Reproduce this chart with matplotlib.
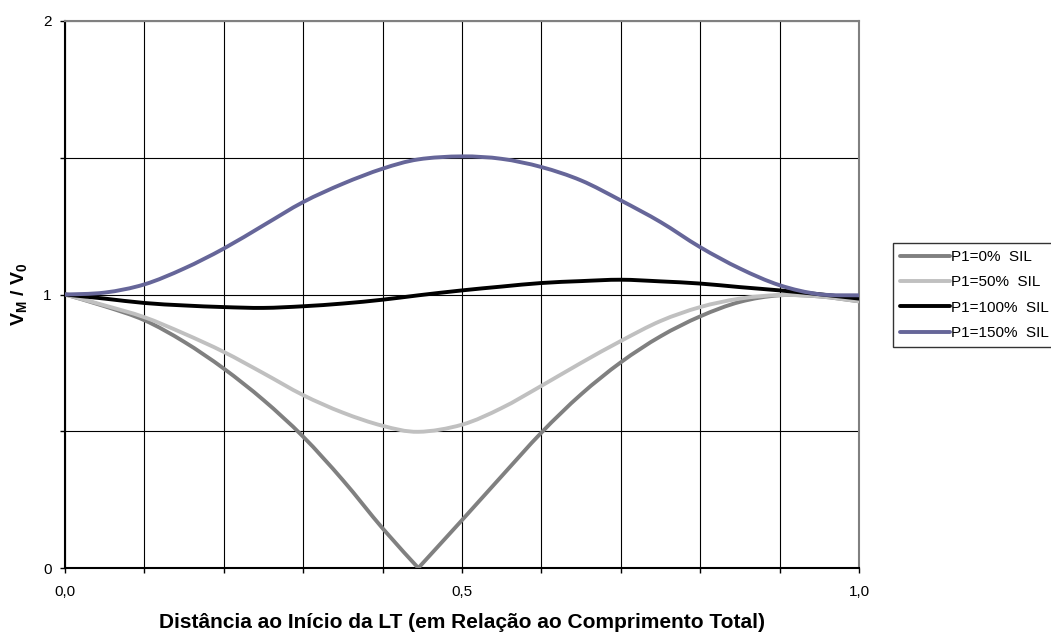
import matplotlib
matplotlib.use('Agg')
import matplotlib.pyplot as plt
from matplotlib.path import Path
from matplotlib.patches import PathPatch
from matplotlib.lines import Line2D
from matplotlib.ticker import MultipleLocator, FixedLocator, FuncFormatter

plt.rcParams['font.family'] = ['Liberation Sans', 'DejaVu Sans']
plt.rcParams['mathtext.fontset'] = 'custom'
plt.rcParams['mathtext.rm'] = 'Liberation Sans'
plt.rcParams['mathtext.bf'] = 'Liberation Sans:bold'

# distance along the line (fraction of total length)
x = [0, 0.05, 0.1, 0.15, 0.2, 0.25, 0.3, 0.35, 0.4, 0.445, 0.5,
     0.55, 0.6, 0.65, 0.7, 0.75, 0.8, 0.85, 0.9, 0.95, 1.0]

# VM / V0 for each loading
p0 = [1.0, 0.957, 0.906, 0.827, 0.729, 0.614, 0.48, 0.321, 0.145, 0.0, 0.175,
      0.336, 0.495, 0.635, 0.752, 0.847, 0.92, 0.973, 0.997, 0.993, 0.975]
p50 = [1.0, 0.96, 0.917, 0.857, 0.79, 0.712, 0.632, 0.568, 0.52, 0.498, 0.524,
       0.585, 0.666, 0.75, 0.83, 0.903, 0.954, 0.985, 0.998, 0.993, 0.975]
p100 = [1.0, 0.985, 0.969, 0.96, 0.954, 0.951, 0.957, 0.967, 0.981, 0.997, 1.015,
        1.029, 1.042, 1.049, 1.054, 1.048, 1.04, 1.027, 1.015, 1.001, 0.985]
p150 = [1.0, 1.007, 1.037, 1.095, 1.168, 1.253, 1.338, 1.405, 1.46, 1.494, 1.505,
        1.496, 1.466, 1.417, 1.344, 1.265, 1.173, 1.095, 1.034, 1.001, 0.997]

labels = ['P1=0%  SIL', 'P1=50%  SIL', 'P1=100%  SIL', 'P1=150%  SIL']
colors = ['#808080', '#C0C0C0', '#000000', '#666699']
# index where the 0% curve has its sharp corner (smoothing is split there)
corner = x.index(0.445)


def smooth_path(xs, ys):
    """Excel-like smoothed line through the points (cubic bezier segments)."""
    n = len(xs)
    verts = [(xs[0], ys[0])]
    codes = [Path.MOVETO]
    for i in range(n - 1):
        i0 = max(i - 1, 0)
        i3 = min(i + 2, n - 1)
        c1 = (xs[i] + (xs[i + 1] - xs[i0]) / 6, ys[i] + (ys[i + 1] - ys[i0]) / 6)
        c2 = (xs[i + 1] - (xs[i3] - xs[i]) / 6, ys[i + 1] - (ys[i3] - ys[i]) / 6)
        verts += [c1, c2, (xs[i + 1], ys[i + 1])]
        codes += [Path.CURVE4] * 3
    return Path(verts, codes)


fig = plt.figure(figsize=(10.51, 6.35), dpi=100)
ax = fig.add_axes([65 / 1051, 1 - 568 / 635, 794 / 1051, 547 / 635])

handles = []
for k, (y, lab, c) in enumerate(zip([p0, p50, p100, p150], labels, colors)):
    if k == 0:
        parts = [(x[:corner + 1], y[:corner + 1]), (x[corner:], y[corner:])]
    else:
        parts = [(x, y)]
    for xs, ys in parts:
        ax.add_patch(PathPatch(smooth_path(xs, ys), facecolor='none', edgecolor=c,
                               lw=2.8, capstyle='round', joinstyle='round', zorder=3))
    handles.append(Line2D([], [], color=c, lw=2.8, solid_capstyle='round', label=lab))

ax.set_xlim(0, 1)
ax.set_ylim(0, 2)

# ticks: marks every 0.1 / 0.5, labels only at some of them
ax.xaxis.set_major_locator(FixedLocator([0, 0.5, 1.0]))
ax.xaxis.set_minor_locator(MultipleLocator(0.1))
ax.yaxis.set_major_locator(FixedLocator([0, 1, 2]))
ax.yaxis.set_minor_locator(MultipleLocator(0.5))
ax.xaxis.set_major_formatter(FuncFormatter(lambda v, p: f'{v:.1f}'.replace('.', ',')))
ax.yaxis.set_major_formatter(FuncFormatter(lambda v, p: f'{v:.0f}'))

ax.tick_params(axis='x', which='both', direction='out', length=3.5, width=1, pad=9, labelsize=11)
ax.tick_params(axis='y', which='both', direction='out', length=3.5, width=1, pad=6, labelsize=11)
ax.grid(True, which='both', color='#000000', lw=0.8)
ax.set_axisbelow(True)

ax.spines['left'].set_color('#000000')
ax.spines['bottom'].set_color('#000000')
ax.spines['top'].set_color('#808080')
ax.spines['right'].set_color('#808080')
for s in ax.spines.values():
    s.set_linewidth(1.5)

ax.set_xlabel('Distância ao Início da LT (em Relação ao Comprimento Total)',
              fontsize=15, fontweight='bold')
ax.xaxis.set_label_coords(0.5, -0.083)
ax.set_ylabel(r'$\mathbf{V_M}$ / $\mathbf{V_0}$', fontsize=14, fontweight='bold', labelpad=10)

leg = fig.legend(handles=handles, loc='upper left', bbox_to_anchor=(893 / 1051, 1 - 243 / 635),
                 fontsize=11, frameon=True, fancybox=False, handlelength=3.3,
                 handletextpad=0.05, labelspacing=0.75, borderpad=0.45, borderaxespad=0)
leg.get_frame().set_edgecolor('#000000')
leg.get_frame().set_linewidth(1.0)

fig.savefig('out.png', dpi=100)
